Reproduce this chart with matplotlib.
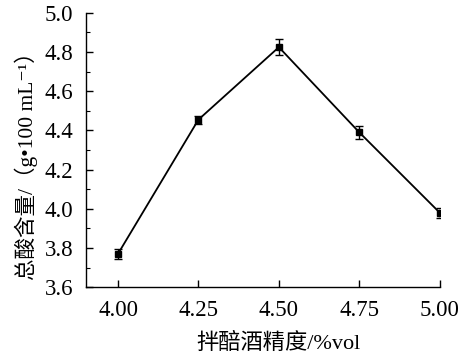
import matplotlib
matplotlib.use("Agg")
import matplotlib.pyplot as plt
from matplotlib.ticker import MultipleLocator, FormatStrFormatter

plt.rcParams['font.family'] = ['Liberation Serif', 'Noto Sans CJK SC', 'DejaVu Sans']

# data
alcohol = [4.00, 4.25, 4.50, 4.75, 5.00]
total_acid = [3.77, 4.455, 4.825, 4.39, 3.98]
acid_err = [0.025, 0.02, 0.04, 0.035, 0.025]

fig = plt.figure(figsize=(4.59, 3.58), dpi=100)
ax = fig.add_axes([0.187, 0.198, 0.771, 0.766])

ax.errorbar(alcohol, total_acid, yerr=acid_err, color='black', marker='s',
            markersize=5, linewidth=1.3, elinewidth=1.0, capsize=3, capthick=1.0)

ax.set_xlim(3.9, 5.0)
ax.set_ylim(3.6, 5.0)
ax.set_xticks(alcohol)
ax.set_xticklabels([f"{v:.2f}" for v in alcohol])
ax.yaxis.set_major_locator(MultipleLocator(0.2))
ax.yaxis.set_minor_locator(MultipleLocator(0.1))
ax.yaxis.set_major_formatter(FormatStrFormatter('%.1f'))

for side in ['top', 'right']:
    ax.spines[side].set_visible(False)
for side in ['left', 'bottom']:
    ax.spines[side].set_linewidth(1.0)

ax.tick_params(axis='both', which='major', direction='in', length=5, width=1.0,
               labelsize=16.5, pad=9)
ax.tick_params(axis='y', which='minor', direction='in', length=3, width=0.8)

ax.set_xlabel("拌醅酒精度/%vol", fontsize=16, labelpad=9, x=0.544)
ax.set_ylabel("总酸含量/（g•100 mL⁻¹）", fontsize=15.5, labelpad=5, y=0.46)

fig.savefig("out.png", dpi=100)
